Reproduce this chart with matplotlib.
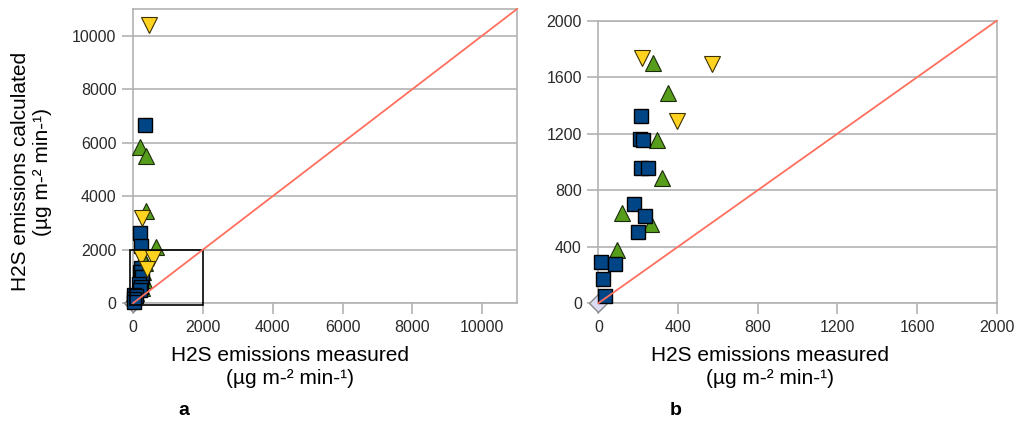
import numpy as np
import matplotlib
matplotlib.use('Agg')
import matplotlib.pyplot as plt
from matplotlib.patches import Rectangle

plt.rcParams['font.family'] = ['Liberation Sans', 'DejaVu Sans']

# values (ug m-2 min-1), measured x vs calculated y
blue_x = [213, 209, 226, 213, 248, 181, 234, 198, 13, 84, 25, 33, 333, 190, 238]
blue_y = [1325, 1160, 1155, 960, 960, 703, 620, 502, 290, 276, 170, 52, 6662, 2615, 2154]

green_x = [273, 347, 296, 321, 117, 263, 92, 210, 381, 381, 667]
green_y = [1702, 1490, 1155, 884, 641, 561, 377, 5828, 5517, 3462, 2092]

yellow_x = [218, 569, 397, 448, 257]
yellow_y = [1733, 1691, 1292, 10411, 3188]

lav_x = [0]
lav_y = [0]

xlab = 'H2S emissions measured\n(µg m-² min-¹)'
ylab = 'H2S emissions calculated\n(µg m-² min-¹)'

c_blue = '#004586'
c_green = '#579d1c'
c_yellow = '#ffd320'
c_line = '#ff6f5e'
c_grid = '#b3b3b3'

fig = plt.figure(figsize=(10.16, 4.24), dpi=100)
axL = fig.add_axes([0.131, 0.285, 0.378, 0.694])
axR = fig.add_axes([0.589, 0.285, 0.392, 0.666])


def style_ax(ax, lim, step, tick_max):
    ax.set_xlim(0, lim)
    ax.set_ylim(0, lim)
    ticks = np.arange(0, tick_max + 1, step)
    ax.set_xticks(ticks)
    ax.set_yticks(ticks)
    ax.yaxis.grid(True, color=c_grid, lw=1.2)
    ax.set_axisbelow(True)
    for sp in ax.spines.values():
        sp.set_color(c_grid)
        sp.set_linewidth(1.2)
    ax.tick_params(direction='out', length=8, width=1.2, color=c_grid,
                   labelsize=11.5, labelcolor='#2a2a2a', pad=4)


def inside(xs, ys, lim):
    # keep only the points that fall in this panel (markers are not clipped)
    pts = [(x, y) for x, y in zip(xs, ys) if x <= lim and y <= lim]
    return [p[0] for p in pts], [p[1] for p in pts]


def draw_points(ax, lim):
    ax.plot(*inside(lav_x, lav_y, lim), 'D', ms=9, mfc='#dcdcf4', mec='#888888', mew=1, clip_on=False, zorder=3)
    ax.plot(*inside(green_x, green_y, lim), '^', ms=11, mfc=c_green, mec='#1a2a0a', mew=0.8, clip_on=False, zorder=4)
    ax.plot(*inside(blue_x, blue_y, lim), 's', ms=10.5, mfc=c_blue, mec='black', mew=1, clip_on=False, zorder=5)
    ax.plot(*inside(yellow_x, yellow_y, lim), 'v', ms=11, mfc=c_yellow, mec='#3a3000', mew=0.8, clip_on=False, zorder=6)
    ax.plot([0, lim], [0, lim], color=c_line, lw=1.3, zorder=7, clip_on=False)


style_ax(axL, 11000, 2000, 10000)
style_ax(axR, 2000, 400, 2000)

draw_points(axL, 11000)
draw_points(axR, 2000)

# zoom box of panel b drawn on panel a
axL.add_patch(Rectangle((-75, -85), 2075, 2085, fill=False, ec='black', lw=1.2, zorder=6, clip_on=False))

fig.text(0.285, 0.135, xlab, ha='center', va='center', fontsize=15, linespacing=1.25)
fig.text(0.758, 0.135, xlab, ha='center', va='center', fontsize=15, linespacing=1.25)
fig.text(0.031, 0.595, ylab, ha='center', va='center', rotation=90, fontsize=15, linespacing=1.25)

fig.text(0.181, 0.033, 'a', ha='center', va='center', fontsize=14, fontweight='bold')
fig.text(0.665, 0.033, 'b', ha='center', va='center', fontsize=14, fontweight='bold')

plt.savefig('out.png', dpi=100, facecolor='white')
